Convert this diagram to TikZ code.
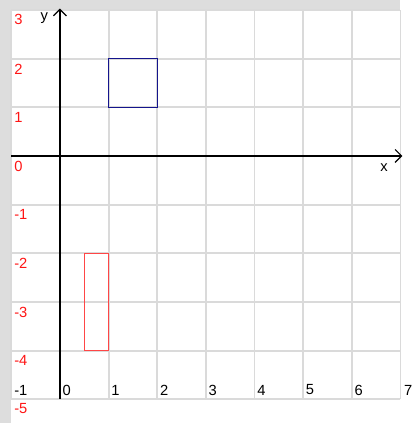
\documentclass[tikz,border=0pt]{standalone}
\usepackage{fontspec}
\setmainfont{Liberation Sans}
\usetikzlibrary{arrows.meta}
\definecolor{panelgray}{RGB}{221,221,221}
\definecolor{gridgray}{RGB}{218,218,218}
\definecolor{boxblue}{RGB}{20,20,140}
\definecolor{boxred}{RGB}{255,70,70}
\definecolor{labelred}{RGB}{255,20,20}

\begin{document}
\begin{tikzpicture}[
  ylab/.style={anchor=west, inner sep=0pt, text=labelred, font=\fontsize{8.6}{10}\selectfont},
  xlab/.style={anchor=west, inner sep=0pt, font=\fontsize{8.6}{10}\selectfont},
  axis/.style={line width=0.7pt, -{Straight Barb[length=3.8pt,width=7.6pt]}}
]
\useasboundingbox (-1.232,-5.489) rectangle (7.381,3.206);
% Grey frame on top and on the left
\fill[panelgray] (-1.232,3.01) rectangle (7.0,3.206);
\fill[panelgray] (-1.232,-5.489) rectangle (-1.005,3.206);
% Draw the grid
\draw[gridgray, line width=1.1pt] (-1,-5) grid (7,3);
% Axes with open arrow heads
\coordinate (xstart) at (-1,0);
\coordinate (xend) at (7.04,0);
\coordinate (ystart) at (0,-5);
\coordinate (yend) at (0,3.03);
\draw[axis] (xstart) -- (xend);
\draw[axis] (ystart) -- (yend);
\node (xname) at (6.66,-0.24) {\fontsize{8.6}{10}\selectfont x};
\node (yname) at (-0.32,2.83) {\fontsize{8.6}{10}\selectfont y};
% Red labels along the left edge
\node[ylab] (y3) at (-0.945,2.8) {3};
\node[ylab] (y2) at (-0.945,1.79) {2};
\node[ylab] (y1) at (-0.945,0.79) {1};
\node[ylab] (y0) at (-0.945,-0.21) {0};
\node[ylab] (ym1) at (-0.945,-1.21) {-1};
\node[ylab] (ym2) at (-0.945,-2.21) {-2};
\node[ylab] (ym3) at (-0.945,-3.21) {-3};
\node[ylab] (ym4) at (-0.945,-4.21) {-4};
\node[ylab] (ym5) at (-0.945,-5.19) {-5};
% Black labels in the bottom row
\node[xlab] (xm1) at (-0.945,-4.81) {-1};
\node[xlab] (x0) at (0.05,-4.81) {0};
\node[xlab] (x1) at (1.05,-4.81) {1};
\node[xlab] (x2) at (2.05,-4.81) {2};
\node[xlab] (x3) at (3.05,-4.81) {3};
\node[xlab] (x4) at (4.05,-4.81) {4};
\node[xlab] (x5) at (5.05,-4.81) {5};
\node[xlab] (x6) at (6.05,-4.81) {6};
\node[xlab] (x7) at (7.07,-4.81) {7};
% The two rectangles
\draw[line width=0.75pt, boxblue] (1,1) rectangle (2,2);
\draw[line width=0.75pt, boxred] (0.5,-4) rectangle (1,-2);
\end{tikzpicture}
\end{document}
